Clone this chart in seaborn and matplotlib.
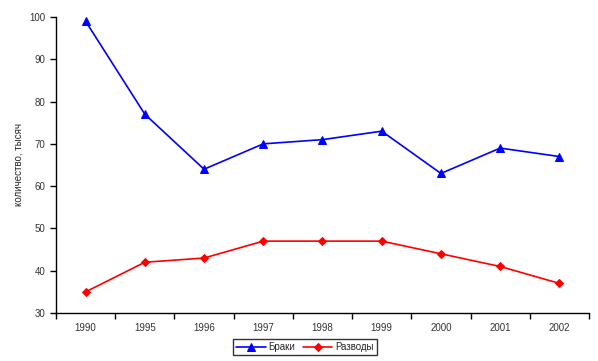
import matplotlib
matplotlib.use("Agg")
import matplotlib.pyplot as plt
import seaborn as sns
import pandas as pd
from matplotlib.ticker import FixedLocator, NullFormatter, FixedFormatter

years = ["1990", "1995", "1996", "1997", "1998", "1999", "2000", "2001", "2002"]
marriages = [99, 77, 64, 70, 71, 73, 63, 69, 67]
divorces = [35, 42, 43, 47, 47, 47, 44, 41, 37]
series_names = ["Браки", "Разводы"]
y_ticks = [30, 40, 50, 60, 70, 80, 90, 100]

sns.set_style("white")
plt.rcParams["font.family"] = ["Liberation Sans", "DejaVu Sans"]

pos = list(range(len(years)))
df = pd.DataFrame({
    "pos": pos * 2,
    "val": marriages + divorces,
    "series": [series_names[0]] * len(years) + [series_names[1]] * len(years),
})

fig = plt.figure(figsize=(5.98, 3.61), dpi=100)
ax = fig.add_axes([56 / 598, 1 - 313 / 361, (589 - 56) / 598, (313 - 17) / 361])

sns.lineplot(data=df[df.series == series_names[0]], x="pos", y="val", ax=ax,
             color="#0000FF", marker="^", markersize=6, markeredgecolor="#0000FF",
             linewidth=1.2, label=series_names[0])
sns.lineplot(data=df[df.series == series_names[1]], x="pos", y="val", ax=ax,
             color="#FF0000", marker="D", markersize=4.5, markeredgecolor="#FF0000",
             linewidth=1.2, label=series_names[1])

ax.set_xlim(-0.5, len(years) - 0.5)
ax.set_ylim(30, 100)
ax.set_yticks(y_ticks)
ax.set_yticklabels([str(t) for t in y_ticks])

ax.xaxis.set_major_locator(FixedLocator([p - 0.5 for p in pos] + [len(years) - 0.5]))
ax.xaxis.set_major_formatter(NullFormatter())
ax.xaxis.set_minor_locator(FixedLocator(pos))
ax.xaxis.set_minor_formatter(FixedFormatter(years))
ax.tick_params(axis="x", which="major", direction="out", length=4, width=1, color="black", bottom=True)
ax.tick_params(axis="x", which="minor", length=0, labelsize=7, pad=7, colors="#333333")
ax.tick_params(axis="y", which="major", direction="out", length=4, width=1, color="black", left=True,
               labelsize=7, labelcolor="#333333")

for s in ["top", "right"]:
    ax.spines[s].set_visible(False)
for s in ["left", "bottom"]:
    ax.spines[s].set_color("black")
    ax.spines[s].set_linewidth(1)

ax.set_xlabel("")
ax.set_ylabel("количество, тысяч", fontsize=7, labelpad=4)

ax.get_legend().remove()
handles, labels = ax.get_legend_handles_labels()
leg = fig.legend(handles, labels, loc="center", bbox_to_anchor=(305 / 598, 1 - 347 / 361),
                 ncol=2, fontsize=7, frameon=True, fancybox=False, edgecolor="black",
                 borderpad=0.3, handlelength=3, columnspacing=0.8, handletextpad=0.3)
leg.get_frame().set_linewidth(1)

fig.savefig("out.png", dpi=100)
